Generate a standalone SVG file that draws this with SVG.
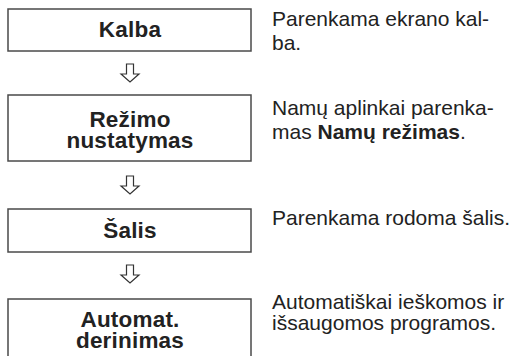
<svg xmlns="http://www.w3.org/2000/svg" width="512" height="356" viewBox="0 0 512 356">
<style>
.box{fill:#fff;stroke:#4a4a4a;stroke-width:1.5}
.lbl{font-family:"Liberation Sans",Arial,sans-serif;font-weight:bold;font-size:22.5px;fill:#222;text-anchor:middle;letter-spacing:0.2px}
.desc{font-family:"Liberation Sans",Arial,sans-serif;font-size:21px;fill:#222}
.arr{fill:#fff;stroke:#333;stroke-width:1.2;stroke-linejoin:miter}
</style>
<rect width="512" height="356" fill="#fff"/>
<g id="node-kalba">
<rect class="box" x="8" y="9" width="243" height="42"/>
<text class="lbl" x="130" y="37">Kalba</text>
</g>
<g id="node-rezimo">
<rect class="box" x="8" y="95" width="243" height="66"/>
<text class="lbl"><tspan x="130" y="126.5">Režimo</tspan><tspan x="130" y="147.5">nustatymas</tspan></text>
</g>
<g id="node-salis">
<rect class="box" x="8" y="209" width="243" height="43"/>
<text class="lbl" x="130" y="237.5">Šalis</text>
</g>
<g id="node-automat">
<rect class="box" x="8" y="299" width="243" height="70"/>
<text class="lbl"><tspan x="130" y="326.5">Automat.</tspan><tspan x="130" y="347.5">derinimas</tspan></text>
</g>
<g id="connectors">
<path class="arr" d="M126.5,64 H133.5 V74 H139 L130,82 L121,74 H126.5 Z"/>
<path class="arr" d="M126.5,176 H133.5 V186 H139 L130,194 L121,186 H126.5 Z"/>
<path class="arr" d="M126.5,265 H133.5 V275 H139 L130,283 L121,275 H126.5 Z"/>
</g>
<g id="descriptions">
<text class="desc"><tspan x="272" y="26">Parenkama ekrano kal-</tspan><tspan x="272" y="50">ba.</tspan></text>
<text class="desc"><tspan x="272" y="115">Namų aplinkai parenka-</tspan><tspan x="272" y="138.5">mas <tspan font-weight="bold">Namų režimas</tspan>.</tspan></text>
<text class="desc" x="272" y="225">Parenkama rodoma šalis.</text>
<text class="desc"><tspan x="272" y="309">Automatiškai ieškomos ir</tspan><tspan x="272" y="330">išsaugomos programos.</tspan></text>
</g>
</svg>
